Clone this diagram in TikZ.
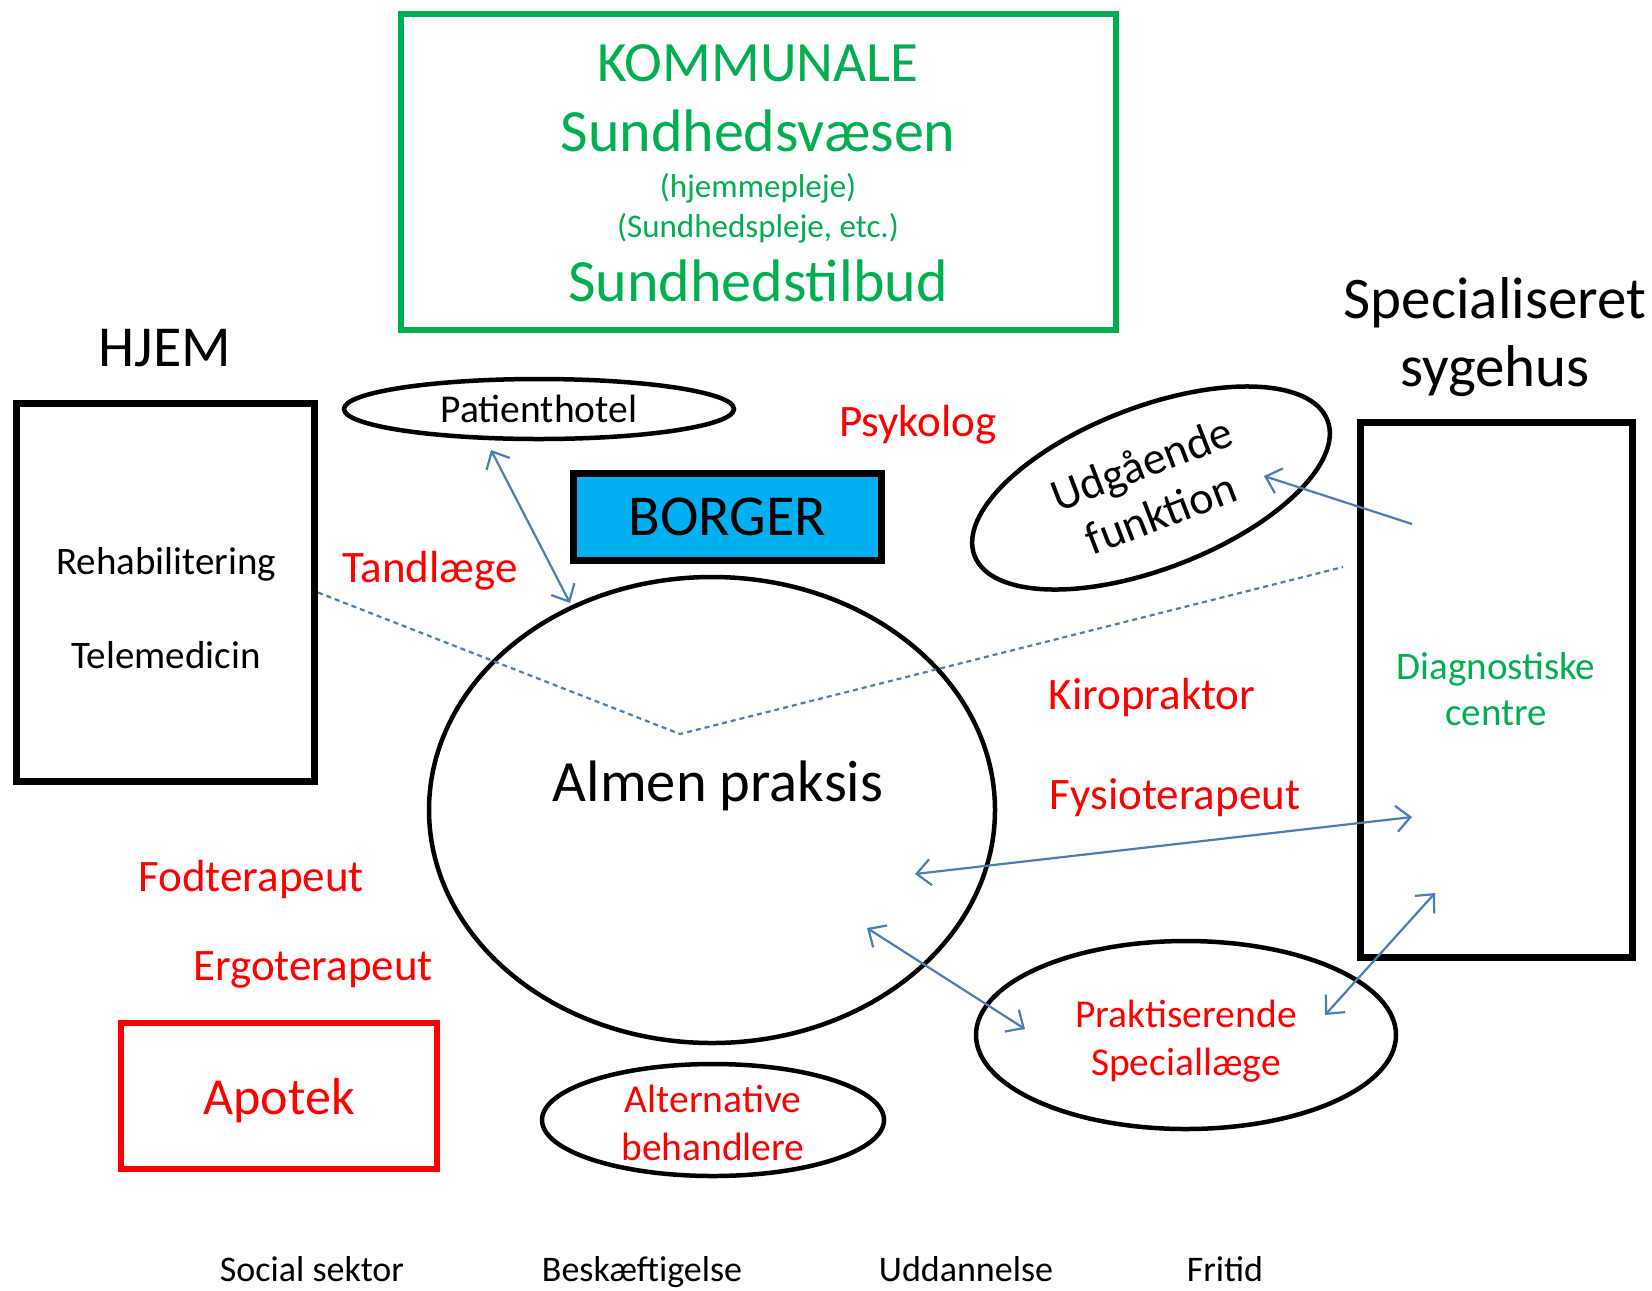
\documentclass[tikz,border=0pt]{standalone}
\usepackage{fontspec}
\setmainfont{Carlito}
\usetikzlibrary{shapes.geometric,arrows.meta}
\definecolor{kgreen}{HTML}{00B050}
\definecolor{kred}{HTML}{FF0000}
\definecolor{kcyan}{HTML}{00B0F0}
\definecolor{kblue}{HTML}{4A7EBB}
\newcommand{\fsz}[2]{\fontsize{#1bp}{#2bp}\selectfont}
\tikzset{
  box/.style={draw, line width=7bp, inner sep=0pt},
  oval/.style={draw, ellipse, line width=4.5bp, inner sep=0pt, align=center},
  lbl/.style={inner sep=0pt, anchor=base},
  txt/.style={inner sep=0pt, align=center},
  barb/.tip={Straight Barb[length=14bp,width=26bp,line width=2.2bp]},
  link/.style={draw=kblue, line width=2.2bp, barb-barb},
  onelink/.style={draw=kblue, line width=2.2bp, -barb},
  dlink/.style={draw=kblue, line width=2.2bp, dash pattern=on 5bp off 4bp},
}
\begin{document}
\begin{tikzpicture}[x=1bp, y=-1bp]
\useasboundingbox[fill=white] (0,0) rectangle (1652,1290);

% Kommunale box
\node[box, draw=kgreen, line width=6bp, minimum width=715bp, minimum height=316bp] (kom) at (758.5,172) {};
\node[lbl, text=kgreen, font=\fsz{57}{60}] (kom1) at (758,81) {KOMMUNALE};
\node[lbl, text=kgreen, font=\fsz{60}{70}] (kom2) at (758,151) {Sundhedsvæsen};
\node[lbl, text=kgreen, font=\fsz{33}{36}] (kom3) at (758,197) {(hjemmepleje)};
\node[lbl, text=kgreen, font=\fsz{33}{36}] (kom4) at (758,237) {(Sundhedspleje, etc.)};
\node[lbl, text=kgreen, font=\fsz{60}{70}] (kom5) at (758,301) {Sundhedstilbud};

% HJEM
\node[lbl, font=\fsz{58}{60}] (hjemlbl) at (165,366) {HJEM};
\node[box, minimum width=298bp, minimum height=378bp] (hjem) at (165.5,592.5) {};
\node[lbl, font=\fsz{39}{42}] (rehab) at (166,574) {Rehabilitering};
\node[lbl, font=\fsz{39}{42}] (tele) at (166,668) {Telemedicin};

% Specialiseret sygehus
\node[lbl, font=\fsz{59}{64}] (spec1) at (1495,318) {Specialiseret};
\node[lbl, font=\fsz{59}{64}] (spec2) at (1495,386) {sygehus};
\node[box, minimum width=272bp, minimum height=535bp] (sbox) at (1496.5,690) {};
\node[lbl, text=kgreen, font=\fsz{39}{44}] (diag1) at (1496,679) {Diagnostiske};
\node[lbl, text=kgreen, font=\fsz{39}{44}] (diag2) at (1496,725) {centre};

% Borger
\node[box, fill=kcyan, minimum width=308bp, minimum height=87bp, font=\fsz{58}{60}] (borger) at (727.5,517) {BORGER};

% Ellipses
\node[oval, minimum width=390bp, minimum height=60bp, font=\fsz{39.5}{44}] (hotel) at (539,409) {Patienthotel};
\node[oval, minimum width=566bp, minimum height=466bp] (almen) at (712,810) {};
\node[lbl, font=\fsz{58.5}{60}] (almentxt) at (718,801) {Almen praksis};
\node[oval, rotate=21, minimum width=378bp, minimum height=162bp, font=\fsz{46}{53}] (udg) at (1151,488) {Udgående\\funktion};
\node[oval, minimum width=342bp, minimum height=112bp] (alt) at (713,1120) {};
\node[txt, text=kred, font=\fsz{39.5}{48}] (alttxt) at (713,1123) {Alternative\\behandlere};
\node[oval, minimum width=420bp, minimum height=188bp] (prakt) at (1186,1035) {};
\node[txt, text=kred, font=\fsz{39.5}{48}] (prakttxt) at (1186,1041) {Praktiserende\\Speciallæge};

% Apotek
\node[box, draw=kred, line width=6bp, minimum width=316bp, minimum height=146bp, text=kred, text depth=0bp, font=\fsz{52}{60}] (apotek) at (279,1096) {Apotek};

% Red labels
\node[lbl, text=kred, font=\fsz{45}{50}] (psyk) at (918,436) {Psykolog};
\node[lbl, text=kred, font=\fsz{45}{50}] (tand) at (430,582) {Tandlæge};
\node[lbl, text=kred, font=\fsz{45}{50}] (kiro) at (1152,709) {Kiropraktor};
\node[lbl, text=kred, font=\fsz{45}{50}] (fysio) at (1175,809) {Fysioterapeut};
\node[lbl, text=kred, font=\fsz{45}{50}] (fod) at (251,891) {Fodterapeut};
\node[lbl, text=kred, font=\fsz{45}{50}] (ergo) at (313,980) {Ergoterapeut};

% Bottom labels
\node[lbl, font=\fsz{36}{40}] (soc) at (312,1281) {Social sektor};
\node[lbl, font=\fsz{36}{40}] (besk) at (642,1281) {Beskæftigelse};
\node[lbl, font=\fsz{36}{40}] (udd) at (966,1281) {Uddannelse};
\node[lbl, font=\fsz{36}{40}] (frit) at (1225,1281) {Fritid};

% Connector end points
\coordinate (hotelpt) at (491,450);
\coordinate (almentop) at (570,603);
\coordinate (dv) at (680,734);
\coordinate (ds) at (1343,567);
\coordinate (sboxa) at (1412,524);
\coordinate (udgpt) at (1264,476);
\coordinate (almenr) at (915,874);
\coordinate (sboxb) at (1412,817);
\coordinate (almenlr) at (867,928);
\coordinate (praktl) at (1025,1029);
\coordinate (praktr) at (1325,1015);
\coordinate (sboxc) at (1435,893);

% Connectors
\draw[link] (hotelpt) -- (almentop);
\draw[dlink] (hjem.east) -- (dv) -- (ds);
\draw[onelink] (sboxa) -- (udgpt);
\draw[link] (almenr) -- (sboxb);
\draw[link] (almenlr) -- (praktl);
\draw[link] (praktr) -- (sboxc);
\end{tikzpicture}
\end{document}
